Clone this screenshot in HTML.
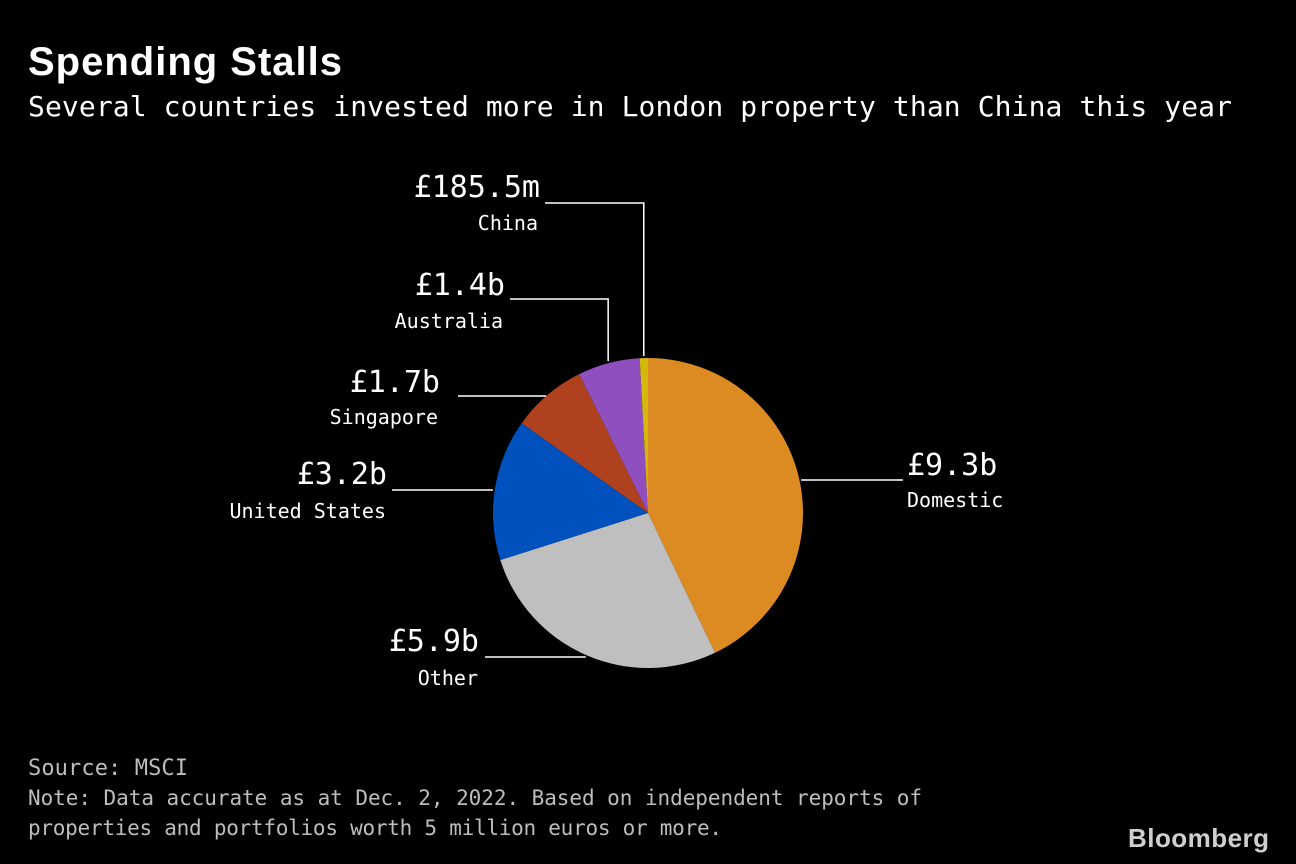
<!DOCTYPE html>
<html><head><meta charset="utf-8"><style>
html,body{margin:0;padding:0;background:#000;}
svg{display:block}
</style></head><body>
<svg id="chart" width="1296" height="864" viewBox="0 0 1296 864" xmlns="http://www.w3.org/2000/svg">
<rect width="1296" height="864" fill="#000"/>
<text x="28" y="75" fill="#fff" font-family="Liberation Sans, sans-serif" font-weight="bold" font-size="40" textLength="314">Spending Stalls</text>
<text x="28" y="116" fill="#fff" font-family="DejaVu Sans Mono, monospace" font-size="28" textLength="1204">Several countries invested more in London property than China this year</text>
<g id="slices"></g>
<g id="labels" font-family="DejaVu Sans Mono, monospace" fill="#fff"></g>
<text x="28" y="775" fill="#bdbdbd" font-family="DejaVu Sans Mono, monospace" font-size="22" textLength="160">Source: MSCI</text>
<text x="28" y="805" fill="#bdbdbd" font-family="DejaVu Sans Mono, monospace" font-size="21" textLength="894">Note: Data accurate as at Dec. 2, 2022. Based on independent reports of</text>
<text x="28" y="835" fill="#bdbdbd" font-family="DejaVu Sans Mono, monospace" font-size="21" textLength="694">properties and portfolios worth 5 million euros or more.</text>
<text x="1128" y="847" fill="#cfcfcf" font-family="Liberation Sans, sans-serif" font-weight="bold" font-size="26" textLength="140" letter-spacing="-1">Bloomberg</text>
</svg>
<script>
const categories = ["Domestic","Other","United States","Singapore","Australia","China"];
const values = [9.3, 5.9, 3.2, 1.7, 1.4, 0.1855];
const valueLabels = ["£9.3b","£5.9b","£3.2b","£1.7b","£1.4b","£185.5m"];
const colors = ["#dc8a22","#bfbfbf","#0050be","#b0411e","#8f4fbe","#d4b80c"];
// label layout: [valueX, valueY, nameX, nameY, anchor, elbowX, elbowY, endX]
const layout = [
 [907,475,907,507,"start",903,480,903],
 [479,651,478,685,"end",485,657,485],
 [387,484,386,518,"end",392,490,392],
 [440,392,438,424,"end",458,396,458],
 [505,295,503,328,"end",510,299,510],
 [540,197,538,230,"end",545,203,545]
];
const cx=648, cy=513, r=155;
const NS="http://www.w3.org/2000/svg";
const total = values.reduce((a,b)=>a+b,0);
const sg=document.getElementById('slices'), lg=document.getElementById('labels');
function pt(a,rr){return [cx+rr*Math.sin(a), cy-rr*Math.cos(a)];}
let acc=0;
values.forEach((v,i)=>{
  const a0=acc/total*2*Math.PI; acc+=v; const a1=acc/total*2*Math.PI;
  const p0=pt(a0,r), p1=pt(a1,r);
  const large=(a1-a0)>Math.PI?1:0;
  const p=document.createElementNS(NS,'path');
  p.setAttribute('d',`M${cx},${cy} L${p0[0]},${p0[1]} A${r},${r} 0 ${large} 1 ${p1[0]},${p1[1]} Z`);
  p.setAttribute('fill',colors[i]);
  
  
  sg.appendChild(p);
  const L=layout[i];
  const mid=(a0+a1)/2, s=pt(mid,r+2);
  const ln=document.createElementNS(NS,'polyline');
  let pts;
  if(i===0||i===1||i===2||i===3) pts=`${s[0]},${L[6]} ${L[7]},${L[6]}`;
  else pts=`${s[0]},${s[1]} ${s[0]},${L[6]} ${L[7]},${L[6]}`;
  ln.setAttribute('points',pts);
  ln.setAttribute('fill','none');ln.setAttribute('stroke','#fff');ln.setAttribute('stroke-width','1.5');
  
  
  lg.appendChild(ln);
  const t1=document.createElementNS(NS,'text');
  t1.setAttribute('x',L[0]);t1.setAttribute('y',L[1]);t1.setAttribute('text-anchor',L[4]);t1.setAttribute('font-size','30');
  t1.textContent=valueLabels[i];
  
  
  lg.appendChild(t1);
  const t2=document.createElementNS(NS,'text');
  t2.setAttribute('x',L[2]);t2.setAttribute('y',L[3]);t2.setAttribute('text-anchor',L[4]);t2.setAttribute('font-size','20');
  t2.textContent=categories[i];
  
  
  lg.appendChild(t2);
});
</script>
</body></html>
